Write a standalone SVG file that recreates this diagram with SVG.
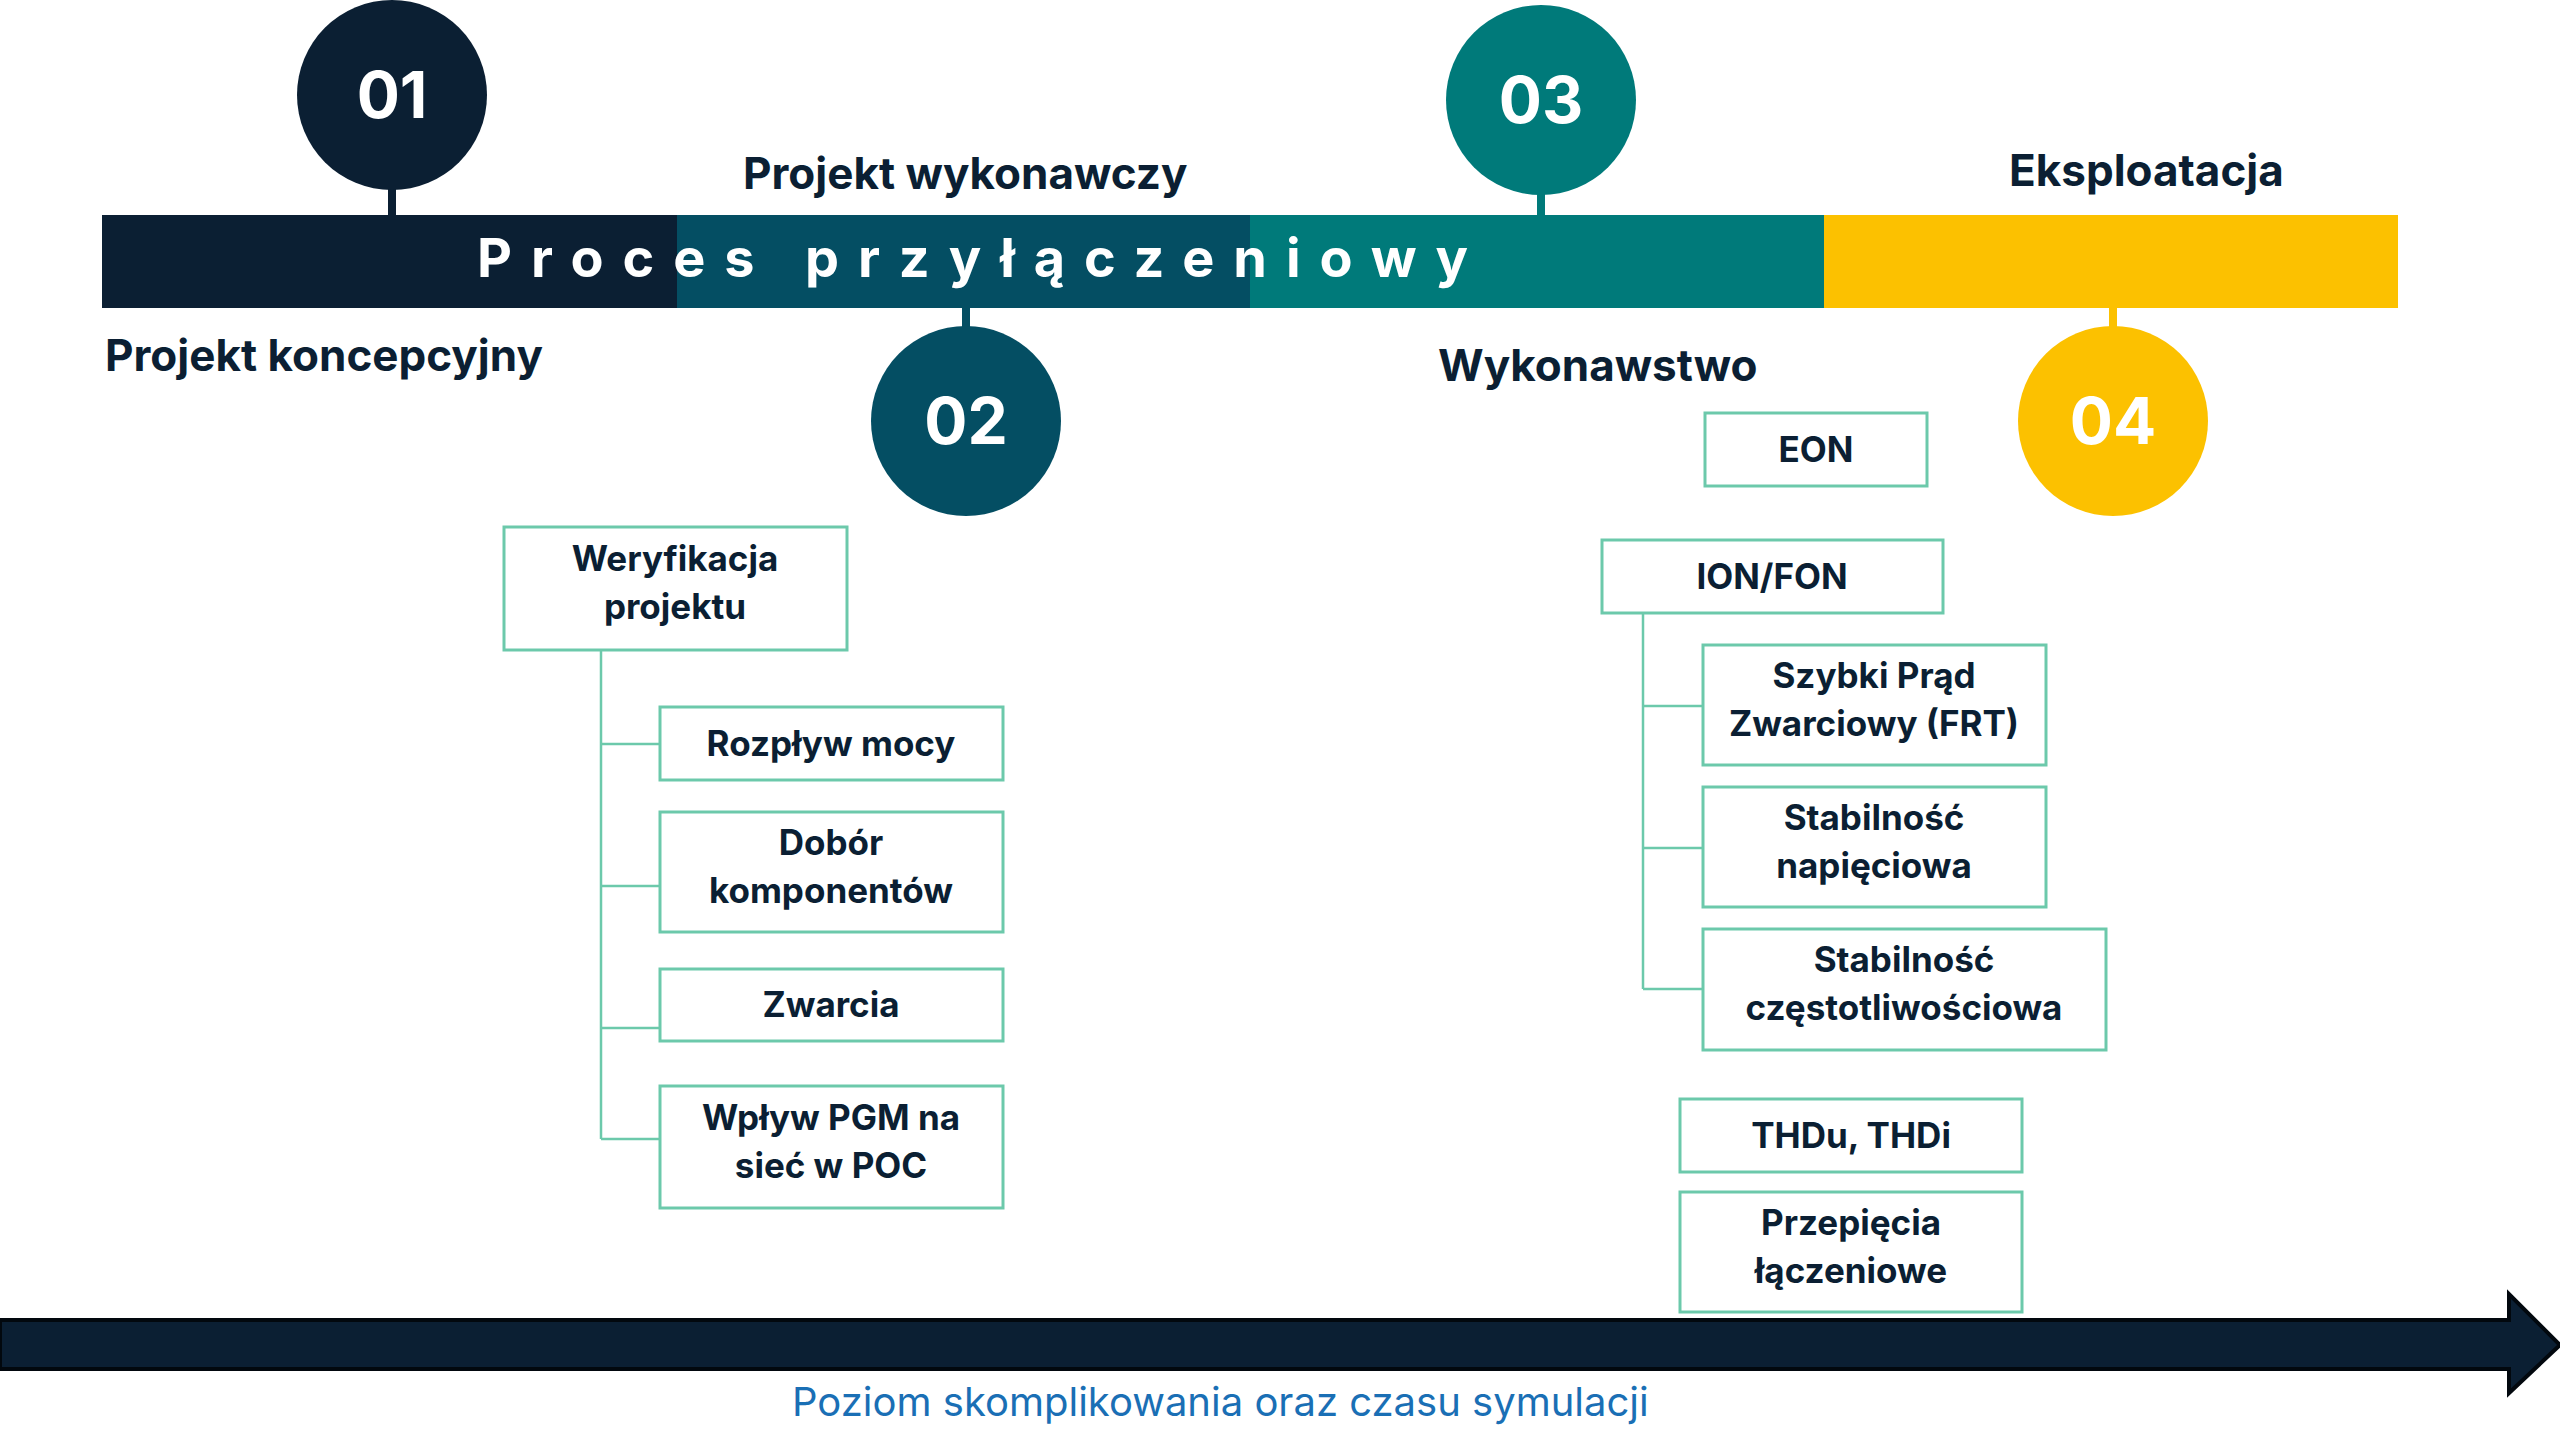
<svg xmlns="http://www.w3.org/2000/svg" width="2560" height="1455" viewBox="0 0 2560 1455">
<style>
text{font-family:Inter,"Noto Sans","Liberation Sans",sans-serif;font-weight:700}
.lbl{font-size:44px;fill:#0b1f33}
.num{font-size:64px;fill:#fff;text-anchor:middle}
.box rect{fill:#fff;stroke:#6cc9ab;stroke-width:3}
.box text{font-size:35px;fill:#0b1f33;text-anchor:middle}
.tree{stroke:#6cc9ab;stroke-width:2.5;fill:none}
</style>
<rect width="2560" height="1455" fill="#fff"/>
<g id="bar">
<rect x="102" y="215" width="575" height="93" fill="#0b1f33"/>
<rect x="677" y="215" width="573" height="93" fill="#044e63"/>
<rect x="1250" y="215" width="574" height="93" fill="#007a7a"/>
<rect x="1824" y="215" width="574" height="93" fill="#fcc100"/>
<text x="477" y="277" font-size="54" fill="#fff" textLength="991" lengthAdjust="spacing">Proces przyłączeniowy</text>
</g>
<g id="m01"><line x1="392" y1="180" x2="392" y2="215" stroke="#0b1f33" stroke-width="8"/><circle cx="392" cy="95" r="95" fill="#0b1f33"/><text class="num" x="392" y="118">01</text></g>
<g id="m02"><line x1="966" y1="308" x2="966" y2="335" stroke="#044e63" stroke-width="8"/><circle cx="966" cy="421" r="95" fill="#044e63"/><text class="num" x="966" y="444">02</text></g>
<g id="m03"><line x1="1541" y1="185" x2="1541" y2="215" stroke="#007a7a" stroke-width="8"/><circle cx="1541" cy="100" r="95" fill="#007a7a"/><text class="num" x="1541" y="123">03</text></g>
<g id="m04"><line x1="2113" y1="308" x2="2113" y2="335" stroke="#fcc100" stroke-width="8"/><circle cx="2113" cy="421" r="95" fill="#fcc100"/><text class="num" x="2113" y="444">04</text></g>
<text class="lbl" x="105" y="371">Projekt koncepcyjny</text>
<text class="lbl" x="743" y="189">Projekt wykonawczy</text>
<text class="lbl" x="1438" y="381">Wykonawstwo</text>
<text class="lbl" x="2009" y="186">Eksploatacja</text>
<g id="connectors" class="tree">
<path d="M601 650V1139M601 744H660M601 886H660M601 1028H660M601 1139H660"/>
<path d="M1643 613V989M1643 706H1703M1643 848H1703M1643 989H1703"/>
</g>
<g id="weryfikacja" class="box"><rect x="504" y="527" width="343" height="123"/><text x="675" y="571">Weryfikacja</text><text x="675" y="619">projektu</text></g>
<g id="rozplyw" class="box"><rect x="660" y="707" width="343" height="73"/><text x="831" y="756">Rozpływ mocy</text></g>
<g id="dobor" class="box"><rect x="660" y="812" width="343" height="120"/><text x="831" y="855">Dobór</text><text x="831" y="903">komponentów</text></g>
<g id="zwarcia" class="box"><rect x="660" y="969" width="343" height="72"/><text x="831" y="1017">Zwarcia</text></g>
<g id="wplyw" class="box"><rect x="660" y="1086" width="343" height="122"/><text x="831" y="1130">Wpływ PGM na</text><text x="831" y="1178">sieć w POC</text></g>
<g id="eon" class="box"><rect x="1705" y="413" width="222" height="73"/><text x="1816" y="462">EON</text></g>
<g id="ionfon" class="box"><rect x="1602" y="540" width="341" height="73"/><text x="1772" y="589">ION/FON</text></g>
<g id="szybki" class="box"><rect x="1703" y="645" width="343" height="120"/><text x="1874" y="688">Szybki Prąd</text><text x="1874" y="736">Zwarciowy (FRT)</text></g>
<g id="stabnap" class="box"><rect x="1703" y="787" width="343" height="120"/><text x="1874" y="830">Stabilność</text><text x="1874" y="878">napięciowa</text></g>
<g id="stabczest" class="box"><rect x="1703" y="929" width="403" height="121"/><text x="1904" y="972">Stabilność</text><text x="1904" y="1020">częstotliwościowa</text></g>
<g id="thd" class="box"><rect x="1680" y="1099" width="342" height="73"/><text x="1851" y="1148">THDu, THDi</text></g>
<g id="przepiecia" class="box"><rect x="1680" y="1192" width="342" height="120"/><text x="1851" y="1235">Przepięcia</text><text x="1851" y="1283">łączeniowe</text></g>
<g id="axis">
<path d="M0 1320H2509V1294L2560 1345L2509 1393V1369H0Z" fill="#0b1f33" stroke="#02080e" stroke-width="4"/>
<text x="792" y="1416" font-size="40" fill="#1a6fb5" style="font-weight:400">Poziom skomplikowania oraz czasu symulacji</text>
</g>
</svg>
